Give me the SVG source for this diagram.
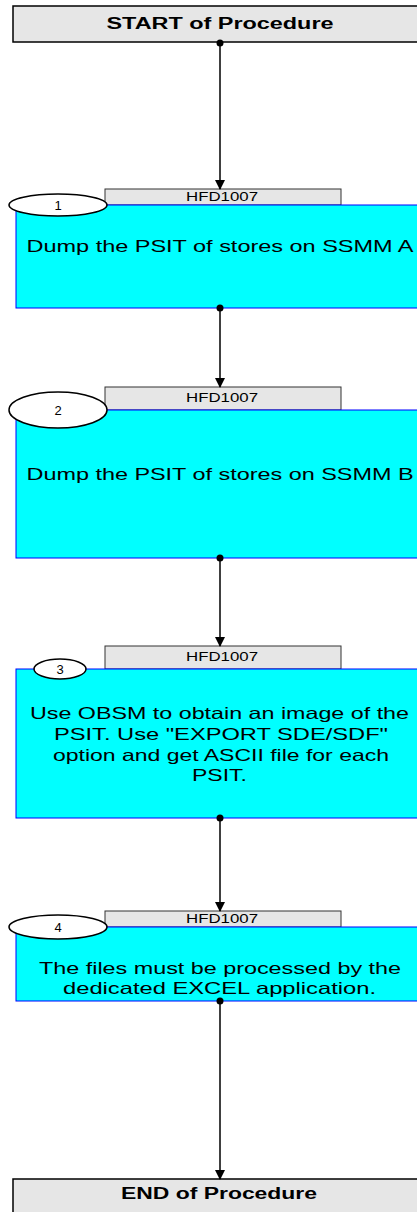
<svg xmlns="http://www.w3.org/2000/svg" width="417" height="1212" viewBox="0 0 417 1212">
<style>
.term{fill:#e6e6e6;stroke:#000;stroke-width:1.5}
.termt{font-family:"Liberation Sans",Arial,sans-serif;font-size:16px;font-weight:bold;fill:#000;text-anchor:middle}
.hdr{fill:#e6e6e6;stroke:#333;stroke-width:1}
.hdrt{font-family:"Liberation Sans",Arial,sans-serif;font-size:13px;fill:#000;text-anchor:middle}
.body{fill:#00ffff;stroke:#0000ff;stroke-width:1}
.bt{font-family:"Liberation Sans",Arial,sans-serif;font-size:16.5px;fill:#000;text-anchor:middle}
.ell{fill:#fff;stroke:#000;stroke-width:1.5}
.et{font-family:"Liberation Sans",Arial,sans-serif;font-size:13px;fill:#000;text-anchor:middle}
.conn{stroke:#000;stroke-width:1.5;fill:none}
</style>
<defs>
<marker id="arr" markerWidth="10" markerHeight="10" refX="9" refY="5" orient="auto" markerUnits="userSpaceOnUse">
<path d="M0,0 L10,5 L0,10 Z" fill="#000"/>
</marker>
</defs>
<g id="start">
<rect class="term" x="13" y="6" width="420" height="36"/>
<text class="termt" x="220" y="29" textLength="227" lengthAdjust="spacingAndGlyphs">START of Procedure</text>
</g>
<g id="step1">
<rect class="hdr" x="105" y="189" width="236" height="16"/>
<text class="hdrt" x="222" y="201" textLength="72" lengthAdjust="spacingAndGlyphs">HFD1007</text>
<rect class="body" x="16" y="205" width="420" height="103"/>
<text class="bt" x="220" y="252" textLength="387" lengthAdjust="spacingAndGlyphs">Dump the PSIT of stores on SSMM A</text>
<ellipse class="ell" cx="58" cy="205" rx="49" ry="11"/>
<text class="et" x="58" y="210">1</text>
</g>
<g id="step2">
<rect class="hdr" x="105" y="387" width="236" height="23"/>
<text class="hdrt" x="222" y="402" textLength="72" lengthAdjust="spacingAndGlyphs">HFD1007</text>
<rect class="body" x="16" y="410" width="420" height="148"/>
<text class="bt" x="220" y="480" textLength="387" lengthAdjust="spacingAndGlyphs">Dump the PSIT of stores on SSMM B</text>
<ellipse class="ell" cx="58" cy="410" rx="49" ry="18"/>
<text class="et" x="58" y="415">2</text>
</g>
<g id="step3">
<rect class="hdr" x="105" y="646" width="236" height="23"/>
<text class="hdrt" x="222" y="661" textLength="72" lengthAdjust="spacingAndGlyphs">HFD1007</text>
<rect class="body" x="16" y="669" width="420" height="149"/>
<text class="bt" x="219.5" y="719" textLength="379" lengthAdjust="spacingAndGlyphs">Use OBSM to obtain an image of the</text>
<text class="bt" x="221" y="740" textLength="334" lengthAdjust="spacingAndGlyphs">PSIT. Use "EXPORT SDE/SDF"</text>
<text class="bt" x="221" y="761" textLength="336" lengthAdjust="spacingAndGlyphs">option and get ASCII file for each</text>
<text class="bt" x="219.5" y="781" textLength="55" lengthAdjust="spacingAndGlyphs">PSIT.</text>
<ellipse class="ell" cx="60" cy="669" rx="26" ry="10"/>
<text class="et" x="60" y="674">3</text>
</g>
<g id="step4">
<rect class="hdr" x="105" y="911" width="236" height="16"/>
<text class="hdrt" x="222" y="923" textLength="72" lengthAdjust="spacingAndGlyphs">HFD1007</text>
<rect class="body" x="16" y="927" width="420" height="74"/>
<text class="bt" x="220" y="974" textLength="362" lengthAdjust="spacingAndGlyphs">The files must be processed by the</text>
<text class="bt" x="219.5" y="994" textLength="313" lengthAdjust="spacingAndGlyphs">dedicated EXCEL application.</text>
<ellipse class="ell" cx="58" cy="927" rx="49" ry="12"/>
<text class="et" x="58" y="932">4</text>
</g>
<g id="end">
<rect class="term" x="13" y="1179" width="420" height="40"/>
<text class="termt" x="219" y="1199" textLength="196" lengthAdjust="spacingAndGlyphs">END of Procedure</text>
</g>
<g id="connectors">
<circle cx="220" cy="43" r="3.5" fill="#000"/>
<line class="conn" x1="220" y1="43" x2="220" y2="189" marker-end="url(#arr)"/>
<circle cx="220" cy="308" r="3.5" fill="#000"/>
<line class="conn" x1="220" y1="308" x2="220" y2="387" marker-end="url(#arr)"/>
<circle cx="220" cy="558" r="3.5" fill="#000"/>
<line class="conn" x1="220" y1="558" x2="220" y2="646" marker-end="url(#arr)"/>
<circle cx="220" cy="818" r="3.5" fill="#000"/>
<line class="conn" x1="220" y1="818" x2="220" y2="911" marker-end="url(#arr)"/>
<circle cx="220" cy="1001" r="3.5" fill="#000"/>
<line class="conn" x1="220" y1="1001" x2="220" y2="1179" marker-end="url(#arr)"/>
</g>
</svg>
